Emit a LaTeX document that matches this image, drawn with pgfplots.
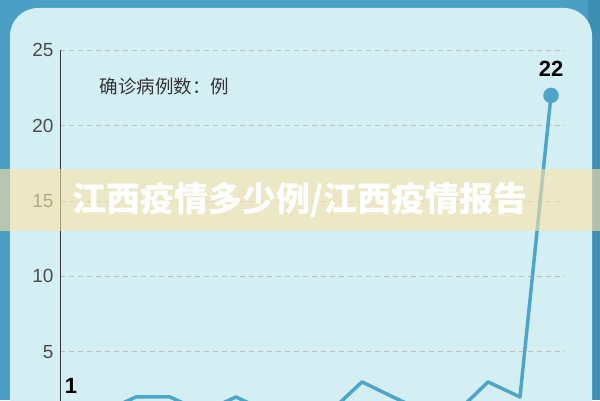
\documentclass[border=0pt]{standalone}
\usepackage{pgfplots}
\pgfplotsset{compat=1.18}
\usepackage{fontspec}
\setmainfont{Liberation Sans}
\newfontfamily\cjk{Noto Sans CJK SC}
\definecolor{frame}{HTML}{4A9FC4}
\definecolor{frameright}{HTML}{3E8FB3}
\definecolor{panel}{HTML}{D3EFF4}
\definecolor{series}{HTML}{4DA6C9}
\definecolor{banner}{RGB}{253,226,164}

\begin{document}
\begin{tikzpicture}[x=1pt,y=1pt]
\useasboundingbox (0,0) rectangle (600,400);
\clip (0,0) rectangle (600,400);
\fill[frame] (0,0) rectangle (600,400);
\fill[frameright] (588,0) rectangle (600,400);
\fill[panel, rounded corners=28pt] (10,-40) rectangle (592,392);

\begin{axis}[
    at={(60,-18)}, anchor=south west,
    scale only axis, width=505pt, height=377pt,
    xmin=60, xmax=565, ymin=0, ymax=25,
    axis x line=none,
    axis y line*=left,
    axis line style={black!80, line width=0.8pt},
    ytick={5,10,15,20,25},
    major tick length=0pt,
    ymajorgrids,
    grid style={black!25, line width=0.6pt, dash pattern=on 5pt off 4pt},
    yticklabel style={font=\fontsize{19}{19}\selectfont, color=black!70, xshift=-3pt},
    /pgf/number format/assume math mode=true,
    clip=false,
]
    % confirmed cases per day
    \addplot[series, line width=3.5pt, line join=round, mark=none] coordinates {
        (71,1) (103,1) (136,2) (170,2) (203,1) (236,2) (268,1) (300,1)
        (330,1) (362,3) (393,2) (425,1) (457,1) (488,3) (520,2) (551,22)
    };
    \addplot[series, only marks, mark=*, mark size=7.5pt] coordinates {(551,22)};

    \node[font=\fontsize{22}{22}\selectfont\bfseries] at (axis cs:551,22) [yshift=27pt] {22};
    \node[font=\fontsize{22}{22}\selectfont\bfseries] at (axis cs:71,1) [yshift=26pt] {1};
\end{axis}

\node[anchor=west, font=\cjk\fontsize{18.5}{18.5}\selectfont, color=black!80] at (96,314) {确诊病例数：例};

% overlay banner
\fill[banner, opacity=0.6] (0,169) rectangle (600,231);
\node[font=\cjk\bfseries\fontsize{34}{34}\selectfont, color=white] at (300,200) {江西疫情多少例/江西疫情报告};
\end{tikzpicture}
\end{document}
